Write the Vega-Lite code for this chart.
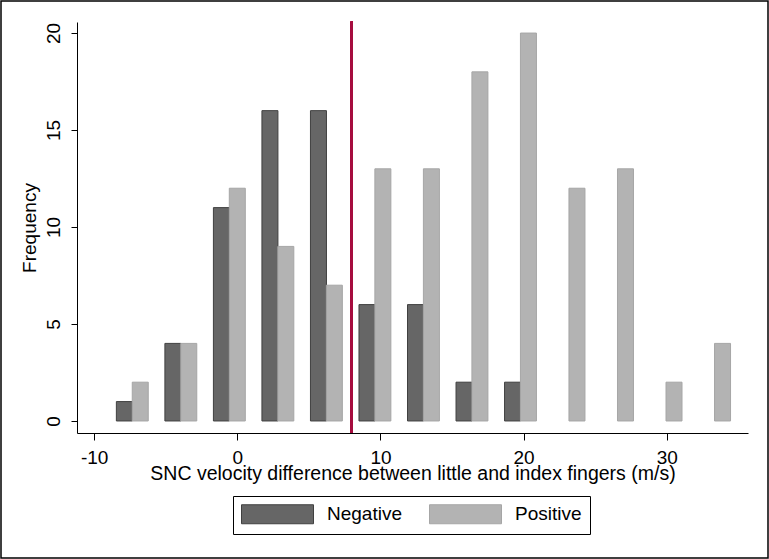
{
  "$schema": "https://vega.github.io/schema/vega-lite/v6.json",
  "autosize": "none",
  "width": 767,
  "height": 557,
  "padding": {"left": 1, "top": 1, "right": 1, "bottom": 1},
  "background": "white",
  "config": {
    "view": {"stroke": "black", "strokeWidth": 1.5},
    "font": "Liberation Sans"
  },
  "data": {
    "values": [
      {"group": "Negative", "center": -7.89, "freq": 1},
      {"group": "Negative", "center": -4.50, "freq": 4},
      {"group": "Negative", "center": -1.11, "freq": 11},
      {"group": "Negative", "center": 2.28, "freq": 16},
      {"group": "Negative", "center": 5.67, "freq": 16},
      {"group": "Negative", "center": 9.06, "freq": 6},
      {"group": "Negative", "center": 12.45, "freq": 6},
      {"group": "Negative", "center": 15.84, "freq": 2},
      {"group": "Negative", "center": 19.23, "freq": 2},
      {"group": "Positive", "center": -6.78, "freq": 2},
      {"group": "Positive", "center": -3.39, "freq": 4},
      {"group": "Positive", "center": 0.0, "freq": 12},
      {"group": "Positive", "center": 3.39, "freq": 9},
      {"group": "Positive", "center": 6.78, "freq": 7},
      {"group": "Positive", "center": 10.17, "freq": 13},
      {"group": "Positive", "center": 13.56, "freq": 13},
      {"group": "Positive", "center": 16.95, "freq": 18},
      {"group": "Positive", "center": 20.34, "freq": 20},
      {"group": "Positive", "center": 23.73, "freq": 12},
      {"group": "Positive", "center": 27.12, "freq": 13},
      {"group": "Positive", "center": 30.51, "freq": 2},
      {"group": "Positive", "center": 33.90, "freq": 4}
    ]
  },
  "layer": [
    {
      "mark": {"type": "bar", "size": 16, "strokeWidth": 1},
      "encoding": {
        "x": {
          "field": "center",
          "type": "quantitative",
          "scale": {"domain": [-10.85, 35.33], "range": [76, 747], "nice": false, "zero": false},
          "axis": {
            "title": "SNC velocity difference between little and index fingers (m/s)",
            "values": [-10, 0, 10, 20, 30],
            "labelExpr": "'' + datum.value",
            "offset": -125,
            "grid": false,
            "domainColor": "black",
            "tickColor": "black",
            "tickSize": 7,
            "labelFontSize": 19,
            "labelColor": "black",
            "labelPadding": 8,
            "titleFontSize": 19.5,
            "titleFontWeight": "normal",
            "titleColor": "black",
            "titlePadding": -3
          }
        },
        "y": {
          "field": "freq",
          "type": "quantitative",
          "scale": {"domain": [-0.62, 20.57], "range": [432, 21], "nice": false, "zero": false},
          "axis": {
            "title": "Frequency",
            "values": [0, 5, 10, 15, 20],
            "offset": -76,
            "grid": false,
            "domainColor": "black",
            "tickColor": "black",
            "tickSize": 6,
            "labelAngle": -90,
            "labelAlign": "center",
            "labelBaseline": "bottom",
            "labelFontSize": 19,
            "labelColor": "black",
            "labelPadding": 8,
            "titleFontSize": 19,
            "titleFontWeight": "normal",
            "titleColor": "black",
            "titlePadding": 5
          }
        },
        "y2": {"datum": 0},
        "fill": {
          "field": "group",
          "type": "nominal",
          "scale": {"domain": ["Negative", "Positive"], "range": ["#666666", "#b3b3b3"]},
          "legend": {
            "title": null,
            "orient": "none",
            "direction": "horizontal",
            "legendX": 232,
            "legendY": 495,
            "strokeColor": "black",
            "padding": 8,
            "symbolType": "M-1,-1L6.58,-1L6.58,1L-1,1Z",
            "symbolSize": 361,
            "symbolStrokeWidth": 1,
            "labelFontSize": 19,
            "labelColor": "black",
            "labelOffset": 66,
            "columnPadding": 25
          }
        },
        "stroke": {
          "field": "group",
          "type": "nominal",
          "scale": {"domain": ["Negative", "Positive"], "range": ["#404040", "#a6a6a6"]},
          "legend": null
        }
      }
    },
    {
      "mark": {"type": "rule", "color": "#a50d3f", "strokeWidth": 2},
      "encoding": {
        "x": {"datum": 8},
        "y": {"datum": -0.62},
        "y2": {"datum": 20.6}
      }
    }
  ]
}
